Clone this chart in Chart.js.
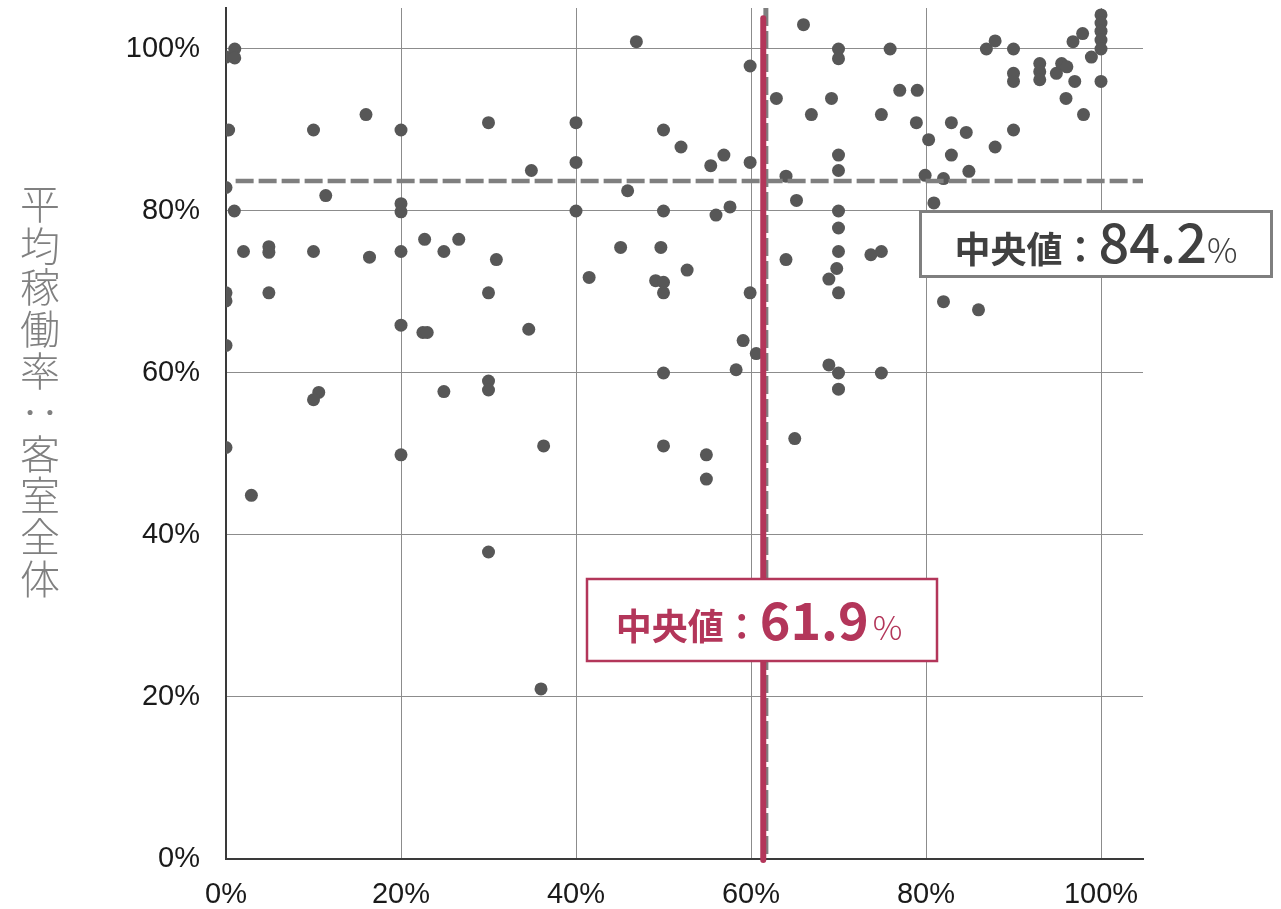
<!DOCTYPE html>
<html>
<head>
<meta charset="utf-8">
<script src="https://cdn.jsdelivr.net/npm/chart.js@4"></script>
<style>
  html, body { margin: 0; padding: 0; background: #fff; }
  #wrap { position: relative; width: 1281px; height: 909px; }
  canvas { position: absolute; left: 0; top: 0; }
  #ytitle {
    position: absolute; left: 19px; top: 184px; width: 42px;
    writing-mode: vertical-rl; text-orientation: upright;
    font-family: "Noto Sans CJK JP", sans-serif; font-weight: 300;
    font-size: 40px; line-height: 42px; letter-spacing: 1.6px; color: #808080;
  }
</style>
</head>
<body>
<div id="wrap">
  <canvas id="c" width="1281" height="909"></canvas>
  <div id="ytitle">平均稼働率：客室全体</div>
</div>
<script>
// ---- data ----
const xValues = [
  0, 1, 1, 0.3, 10, 16, 20, 30, 34.9, 0, 11.4, 20, 20, 0.95, 2, 4.9, 4.9, 10, 16.4, 20,
  22.7, 24.9, 26.6, 30.9, 0, 0, 4.9, 30, 20, 22.5, 23, 34.6, 0, 10.6, 10, 24.9, 30, 30,
  0, 20, 36.3, 2.9, 30, 36,
  46.9, 59.9, 40, 50, 52, 56.9, 55.4, 40, 59.9, 45.9, 40, 50, 56, 57.6, 45.1, 49.7, 41.5,
  52.7, 49.1, 50, 50, 59.9, 59.1, 60.6, 58.3, 50, 50, 54.9, 54.9,
  66, 70, 70, 75.9, 62.9, 69.2, 77, 79, 66.9, 74.9, 70, 70, 64, 65.2, 70, 70, 70, 73.7, 74.9,
  64, 69.8, 68.9, 70, 68.9, 70, 74.9, 70, 65,
  86.9, 87.9, 90, 96.8, 97.9, 100, 100, 100, 100, 100, 98.9, 100, 90, 90, 93, 93, 93, 94.9,
  95.5, 96.1, 97, 96, 98, 78.9, 82.9, 84.6, 80.3, 90, 87.9, 82.9, 84.9, 79.9, 82, 80.9, 82, 86
];
const yValues = [
  99, 100, 98.9, 90, 90, 91.9, 90, 90.9, 85, 82.9, 81.9, 80.9, 79.9, 80, 75, 75.6, 74.9, 75, 74.3, 75,
  76.5, 75, 76.5, 74, 69.9, 68.9, 69.9, 69.9, 65.9, 65, 65, 65.4, 63.4, 57.6, 56.7, 57.7, 59, 57.9,
  50.8, 49.9, 51, 44.9, 37.9, 21,
  100.9, 97.9, 90.9, 90, 87.9, 86.9, 85.6, 86, 86, 82.5, 80, 80, 79.5, 80.5, 75.5, 75.5, 71.8,
  72.7, 71.4, 71.2, 69.9, 69.9, 64, 62.4, 60.4, 60, 51, 49.9, 46.9,
  103, 100, 98.8, 100, 93.9, 93.9, 94.9, 94.9, 91.9, 91.9, 86.9, 85, 84.3, 81.3, 80, 77.9, 75, 74.6, 75,
  74, 72.9, 71.6, 69.9, 61, 60, 60, 58, 51.9,
  100, 101, 100, 100.9, 101.9, 104.2, 103.2, 102.2, 101.1, 100, 99, 96, 97, 96, 98.2, 97.2, 96.2, 97,
  98.2, 97.8, 96, 93.9, 91.9, 90.9, 90.9, 89.7, 88.8, 90, 87.9, 86.9, 84.9, 84.4, 84, 81, 68.8, 67.8
];
const xTickValues = [0, 20, 40, 60, 80, 100];
const yTickValues = [0, 20, 40, 60, 80, 100];
const xMedianText = '61.9';
const yMedianText = '84.2';
const xMedianLine = 61.4;   // drawn position of the red median line
const xMedianGray = 61.7;   // gray dashed vertical line
const yMedianLine = 83.7;   // gray dashed horizontal line
const labelPrefix = '中央値：';

const RED = '#b3365a';
const GRAY = '#7f7f7f';
const points = xValues.map((v, i) => ({ x: v, y: yValues[i] }));

function drawSegs(ctx, segs, cx, baseline, color) {
  let total = 0;
  segs.forEach(s => { ctx.font = s.f; s.w = ctx.measureText(s.t).width; total += s.w + (s.gap || 0); });
  let x = cx - total / 2;
  ctx.fillStyle = color; ctx.textBaseline = 'alphabetic'; ctx.textAlign = 'left';
  segs.forEach(s => { x += (s.gap || 0); ctx.font = s.f; ctx.fillText(s.t, x, baseline); x += s.w; });
}

const annot = {
  id: 'annot',
  afterDatasetsDraw(chart) {
    const { ctx, scales: { x, y }, chartArea: a } = chart;
    ctx.save();
    // gray dashed horizontal median
    const hy = y.getPixelForValue(yMedianLine);
    ctx.strokeStyle = GRAY; ctx.lineWidth = 4.5; ctx.setLineDash([18, 5]); ctx.lineCap = 'butt';
    ctx.beginPath(); ctx.moveTo(x.getPixelForValue(1.1), hy); ctx.lineTo(a.right, hy); ctx.stroke();
    // gray dashed vertical
    const gx = x.getPixelForValue(xMedianGray);
    ctx.lineWidth = 5;
    ctx.beginPath(); ctx.moveTo(gx, a.top); ctx.lineTo(gx, a.bottom); ctx.stroke();
    // red median line
    ctx.setLineDash([]); ctx.strokeStyle = RED; ctx.lineWidth = 6; ctx.lineCap = 'round';
    const rx = x.getPixelForValue(xMedianLine);
    ctx.beginPath(); ctx.moveTo(rx, y.getPixelForValue(103.8)); ctx.lineTo(rx, a.bottom + 1); ctx.stroke();
    ctx.lineCap = 'butt';

    // gray label box
    ctx.fillStyle = '#fff'; ctx.fillRect(919, 210, 354, 68);
    ctx.strokeStyle = GRAY; ctx.lineWidth = 3; ctx.strokeRect(920.5, 211.5, 351, 65);
    drawSegs(ctx, [
      { t: labelPrefix, f: 'bold 36px "Noto Sans CJK JP"' },
      { t: yMedianText, f: '500 54px "Noto Sans CJK JP"' },
      { t: '%', f: '300 34px "Noto Sans CJK JP"' }
    ], 1096, 263, '#404040');

    // red label box
    ctx.fillStyle = '#fff'; ctx.fillRect(586, 578, 352, 84);
    ctx.strokeStyle = RED; ctx.lineWidth = 2.5; ctx.strokeRect(587, 579, 350, 82);
    drawSegs(ctx, [
      { t: labelPrefix, f: 'bold 36px "Noto Sans CJK JP"' },
      { t: xMedianText, f: 'bold 52px "Noto Sans CJK JP"' },
      { t: '%', f: '300 33px "Noto Sans CJK JP"', gap: 4 }
    ], 759, 640, RED);
    ctx.restore();
  }
};

new Chart(document.getElementById('c'), {
  type: 'scatter',
  data: {
    datasets: [{
      data: points,
      backgroundColor: '#575757',
      borderWidth: 0,
      pointRadius: 6.5,
      pointHoverRadius: 6.5
    }]
  },
  options: {
    responsive: false,
    animation: false,
    events: [],
    layout: { padding: { top: 8, right: 138, left: 0, bottom: 0 } },
    plugins: { legend: { display: false }, tooltip: { enabled: false } },
    scales: {
      x: {
        type: 'linear', min: 0, max: 104.8,
        afterBuildTicks: s => { s.ticks = xTickValues.map(v => ({ value: v })); },
        afterFit: s => { s.height = 50; s.paddingLeft = 0; s.paddingRight = 0; s.paddingTop = 0; s.paddingBottom = 0; },
        grid: { color: '#8c8c8c', lineWidth: 1, drawTicks: false },
        border: { display: true, color: '#3a3a3a', width: 2 },
        ticks: {
          padding: 19, color: '#1a1a1a', maxRotation: 0,
          font: { family: '"Liberation Sans", Arial, sans-serif', size: 29 },
          callback: v => v + '%'
        }
      },
      y: {
        type: 'linear', min: 0, max: 105.06,
        afterBuildTicks: s => { s.ticks = yTickValues.map(v => ({ value: v })); },
        afterFit: s => { s.width = 226; s.paddingLeft = 0; s.paddingRight = 0; s.paddingTop = 0; s.paddingBottom = 0; },
        grid: { color: '#8c8c8c', lineWidth: 1, drawTicks: false },
        border: { display: true, color: '#3a3a3a', width: 2 },
        ticks: {
          padding: 26, color: '#1a1a1a',
          font: { family: '"Liberation Sans", Arial, sans-serif', size: 29 },
          callback: v => v + '%'
        }
      }
    }
  },
  plugins: [annot]
});
</script>
</body>
</html>
